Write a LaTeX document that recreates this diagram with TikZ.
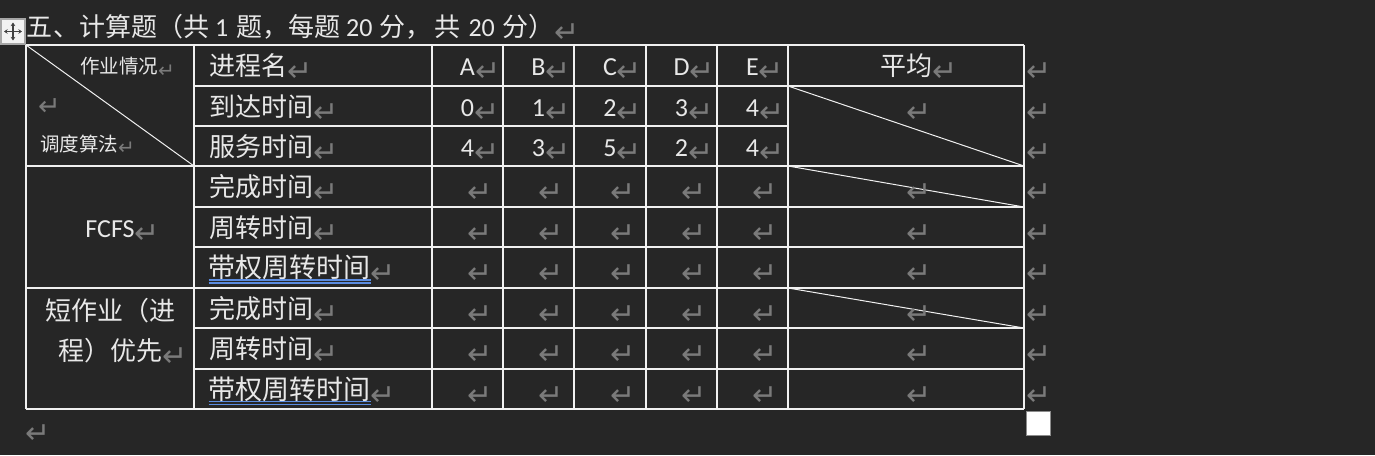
\documentclass[tikz,border=0pt]{standalone}
\usepackage{fontspec}
\usetikzlibrary{arrows.meta}
\setmainfont{Carlito}
\newfontfamily\cjk{Noto Sans CJK SC}
\newfontfamily\dvs{DejaVu Sans}
\definecolor{bg}{HTML}{262626}
\definecolor{fg}{HTML}{E8E8E8}
\definecolor{pm}{HTML}{7A7A7A}
\definecolor{grid}{HTML}{F0F0F0}
\definecolor{ulblue}{HTML}{5B8CE0}
\newcommand{\pmk}{\raisebox{-6pt}{\dvs\fontsize{30}{30}\selectfont\color{pm}↵}}
\newcommand{\pmkm}{\raisebox{-5pt}{\dvs\fontsize{27}{27}\selectfont\color{pm}↵}}
\newcommand{\pmks}{\raisebox{-3.5pt}{\dvs\fontsize{20}{20}\selectfont\color{pm}↵}}
\newcommand{\lt}[1]{{\fontspec{Carlito}#1}}
\tikzset{
  txt/.style={inner sep=0pt, outer sep=0pt, text=fg, font=\cjk\fontsize{26}{26}\selectfont},
  wide/.style={inner sep=0pt, outer sep=0pt, text=fg, font=\cjk\fontsize{27}{27}\selectfont},
  ttl/.style={inner sep=0pt, outer sep=0pt, text=fg, font=\cjk\fontsize{26}{26}\selectfont},
  small/.style={inner sep=0pt, outer sep=0pt, text=fg, font=\cjk\fontsize{19.5}{19.5}\selectfont},
  lat/.style={inner sep=0pt, outer sep=0pt, text=fg, font=\fontsize{26}{26}\selectfont},
  mk/.style={inner sep=0pt, outer sep=0pt},
  gridline/.style={draw=grid, line width=1.2pt},
  diag/.style={draw=grid, line width=1pt},
  ul/.style={draw=ulblue, line width=1.1pt}
}
\begin{document}
\begin{tikzpicture}[x=1pt,y=-1pt]
\fill[bg] (0,0) rectangle (1375,455);
\useasboundingbox (0,0) rectangle (1375,455);

% move handle
\draw[fill=white!95!black, draw=black!35, line width=1.2pt] (1,19) rectangle (25,44);
\draw[black!75, line width=1.3pt, -{Stealth[length=3.5pt,width=4.5pt]}] (13,31.5) -- (13,22.5);
\draw[black!75, line width=1.3pt, -{Stealth[length=3.5pt,width=4.5pt]}] (13,31.5) -- (13,40.5);
\draw[black!75, line width=1.3pt, -{Stealth[length=3.5pt,width=4.5pt]}] (13,31.5) -- (4,31.5);
\draw[black!75, line width=1.3pt, -{Stealth[length=3.5pt,width=4.5pt]}] (13,31.5) -- (22,31.5);

% title
\node[ttl, anchor=base west] (title) at (27,36) {五、计算题（共\hspace{6pt}\lt{1}\hspace{8pt}题，每题\hspace{6pt}\lt{20}\hspace{7pt}分，\hspace{3pt}共\hspace{8pt}\lt{20}\hspace{8pt}分）\pmk};

% grid
\draw[gridline] (26,45) -- (1024,45);
\draw[gridline] (194,86) -- (1024,86);
\draw[gridline] (194,126) -- (788,126);
\draw[gridline] (26,166) -- (1024,166);
\draw[gridline] (194,207) -- (1024,207);
\draw[gridline] (194,247) -- (1024,247);
\draw[gridline] (26,288) -- (1024,288);
\draw[gridline] (194,328) -- (1024,328);
\draw[gridline] (194,369) -- (1024,369);
\draw[gridline] (26,409) -- (1024,409);
\foreach \x in {26,194,432,503,574,646,717,788,1024}
  \draw[gridline] (\x,45) -- (\x,409);

% diagonals
\draw[diag] (26,45) -- (194,166);
\draw[diag] (788,86) -- (1024,166);
\draw[diag] (788,166) -- (1024,207);
\draw[diag] (788,288) -- (1024,328);

% header corner cell
\node[small, anchor=base west] (hjob) at (80,73.5) {作业情况\pmks};
\node[mk, anchor=base west] (hmid) at (38,110) {\pmkm};
\node[small, anchor=base west] (halg) at (40,151) {调度算法\pmks};

% second column labels
\node[txt, anchor=base west] (l1) at (209,75.5) {进程名\pmk};
\node[txt, anchor=base west] (l2) at (209,116) {到达时间\pmk};
\node[txt, anchor=base west] (l3) at (209,156) {服务时间\pmk};
\node[txt, anchor=base west] (l4) at (209,196.5) {完成时间\pmk};
\node[txt, anchor=base west] (l5) at (209,237) {周转时间\pmk};
\node[wide, anchor=base west] (l6) at (208.5,277.5) {带权周转时间};
\node[mk, anchor=base west] (l6m) at (l6.base east) {\pmk};
\node[txt, anchor=base west] (l7) at (209,318) {完成时间\pmk};
\node[txt, anchor=base west] (l8) at (209,358.5) {周转时间\pmk};
\node[wide, anchor=base west] (l9) at (208.5,399) {带权周转时间};
\node[mk, anchor=base west] (l9m) at (l9.base east) {\pmk};
\draw[ul] ([yshift=-2.5pt]l6.base west) -- ([yshift=-2.5pt]l6.base east);
\draw[ul] ([yshift=-5.5pt]l6.base west) -- ([yshift=-5.5pt]l6.base east);
\draw[ul] ([yshift=-2.5pt]l9.base west) -- ([yshift=-2.5pt]l9.base east);
\draw[ul] ([yshift=-5.5pt]l9.base west) -- ([yshift=-5.5pt]l9.base east);

% header letters and data
\foreach \x/\a/\b/\c/\n in {467.5/A/0/4/a,538.5/B/1/3/b,610/C/2/5/c,681.5/D/3/2/d,752.5/E/4/4/e}{
  \node[lat, anchor=base] (h\n) at (\x,75.5) {\a\rlap{\pmk}};
  \node[lat, anchor=base] (t\n) at (\x,116) {\b\rlap{\pmk}};
  \node[lat, anchor=base] (s\n) at (\x,156) {\c\rlap{\pmk}};
}
\node[txt, anchor=base] (avg) at (906,75.5) {平均\rlap{\pmk}};
\node[mk, anchor=base west] (avg2) at (906,116) {\pmk};

% empty cells rows 4-9
\foreach \y/\r in {196.5/4,237/5,277.5/6,318/7,358.5/8,399/9}{
  \foreach \x/\n in {467.5/a,538.5/b,610/c,681.5/d,752.5/e,906/f}{
    \node[mk, anchor=base west] (e\r\n) at (\x,\y) {\pmk};
  }
}

% row-end marks
\foreach \y/\r in {75.5/1,116/2,156/3,196.5/4,237/5,277.5/6,318/7,358.5/8,399/9}
  \node[mk, anchor=base west] (end\r) at (1026,\y) {\pmk};

% group labels
\node[lat, anchor=base] (fcfs) at (110,237) {FCFS\rlap{\pmk}};
\node[txt, anchor=base] (sjf1) at (110.5,320) {短作业（进};
\node[txt, anchor=base] (sjf2) at (110.5,360) {程）优先\rlap{\pmk}};

% after-table mark
\node[mk, anchor=base west] (after) at (25,437) {\pmk};

% end-of-row box
\draw[fill=white, draw=black!45, line width=1.3pt] (1026.5,411.5) rectangle (1050.5,435.5);
\end{tikzpicture}
\end{document}
